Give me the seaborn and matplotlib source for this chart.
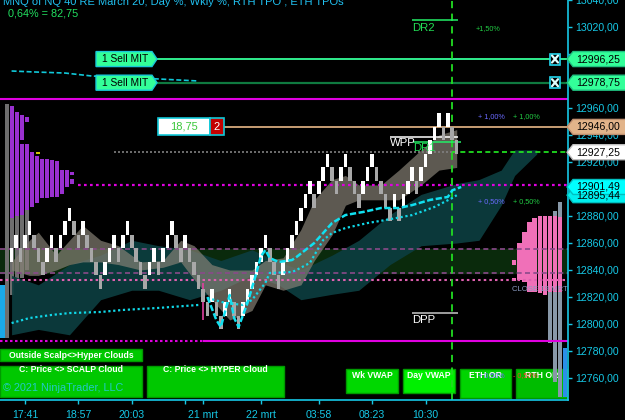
import numpy as np
import pandas as pd
import matplotlib
matplotlib.use("Agg")
import matplotlib.pyplot as plt
import matplotlib.transforms as mtransforms
from matplotlib.patches import Rectangle, Polygon
from matplotlib.lines import Line2D
import seaborn as sns

# ----------------------------- data -----------------------------
brick_size = 10
brick_lows = [12846, 12856, 12846, 12856, 12866, 12856, 12846, 12836, 12846, 12856,
              12846, 12856, 12866, 12876, 12866, 12856, 12866, 12856, 12846, 12836,
              12826, 12836, 12846, 12856, 12846, 12856, 12866, 12856, 12846, 12836,
              12826, 12836, 12846, 12836, 12846, 12856, 12866, 12856, 12846, 12856,
              12846, 12836, 12826, 12816, 12806, 12816, 12806, 12796, 12806, 12816,
              12806, 12796, 12806, 12816, 12826, 12836, 12846, 12856, 12846, 12836,
              12826, 12836, 12846, 12856, 12866, 12876, 12886, 12896, 12886, 12896,
              12906, 12916, 12906, 12896, 12906, 12916, 12906, 12896, 12886, 12896,
              12906, 12916, 12906, 12896, 12886, 12876, 12886, 12876, 12886, 12896,
              12906, 12896, 12906, 12916, 12926, 12936, 12946, 12936, 12946, 12936,
              12926]

time_tick_pos = [3, 15, 27, 39, 43, 56, 69, 81, 93]
time_tick_labels = ["17:41", "18:57", "20:03", "", "21 mrt", "22 mrt", "03:58", "08:23", "10:30"]
price_ticks = list(range(12760, 13041, 20))
hidden_price_labels = [12900, 13000]

# scalp (gray) cloud
scalp_x = [0, 4, 6, 10, 13, 16, 20, 24, 29, 34, 38, 41, 45, 49, 54, 57, 61, 65, 68, 72,
           75, 78, 83, 87, 92, 96, 100]
scalp_hi = [12846, 12862, 12868, 12851, 12862, 12873, 12862, 12858, 12846, 12847,
            12862, 12858, 12844, 12840, 12840, 12847, 12849, 12870, 12892, 12907,
            12910, 12903, 12903, 12914, 12929, 12940, 12944]
scalp_lo = [12840, 12836, 12836, 12840, 12844, 12846, 12846, 12844, 12840, 12842,
            12846, 12833, 12818, 12803, 12810, 12829, 12825, 12829, 12847, 12866,
            12888, 12892, 12892, 12892, 12903, 12914, 12916]

# hyper (teal) cloud
hyper_x = [0, 6, 13, 20, 27, 33, 40, 47, 54, 60, 65, 72, 78, 85, 92, 100, 105, 110, 113, 118]
hyper_hi = [12836, 12829, 12844, 12851, 12862, 12858, 12855, 12847, 12855, 12846,
            12840, 12851, 12862, 12881, 12896, 12904, 12907, 12914, 12929, 12929]
hyper_lo = [12792, 12796, 12792, 12818, 12825, 12825, 12818, 12825, 12836, 12829,
            12818, 12822, 12825, 12844, 12858, 12860, 12862, 12888, 12910, 12926]

# day vwap (dashed cyan)
dvwap_x = [44, 46, 47, 49, 50, 51, 53, 55, 56, 57, 58, 60, 63, 64, 68, 72, 75, 79, 83,
           87, 90, 94, 98, 99, 101]
dvwap_y = [12820.0, 12803.0, 12797.8, 12821.5, 12804.4, 12797.8, 12815.6, 12837.8,
           12850.0, 12854.8, 12848.9, 12845.9, 12847.4, 12849.6, 12860.0, 12874.8,
           12880.7, 12883.0, 12885.9, 12885.9, 12888.1, 12891.9, 12894.1, 12899.0, 12901.5]

# week vwap (dotted cyan), two sessions
wvwap1_x = [0, 4, 9, 13, 20, 25, 33, 42]
wvwap1_y = [12800.7, 12804.4, 12806.7, 12808.1, 12808.9, 12810.4, 12811.9, 12814.1]
wvwap2_x = [44, 48, 52, 54, 57, 58, 63, 64, 67, 70, 72, 75, 80, 84, 90, 95, 99, 100]
wvwap2_y = [12819.3, 12815.6, 12814.1, 12817.8, 12830.4, 12837.8, 12838.5, 12840.0,
            12845.2, 12862.2, 12867.4, 12871.1, 12874.8, 12877.0, 12880.7, 12886.7,
            12893.3, 12895.4]

# previous vwap (top dashed cyan)
pvwap_x = [0, 5, 12, 18, 33, 42]
pvwap_y = [12987.4, 12986.7, 12985.9, 12983.7, 12981.5, 12980.0]

# levels
lvl_top_magenta = 12966.3
lvl_bot_magenta = 12787.4
lvl_mag_dot = 12903.3
lvl_pink_dot = 12832.6
lvl_band_hi = 12855.3
lvl_band_lo = 12838.0
lvl_last = 12927.25
lvl_tan = 12946.00
lvl_sell1 = 12996.25
lvl_sell2 = 12978.75
lvl_dr2 = 13025.2
lvl_wpp = 12938.5
lvl_dr1 = 12934.8
lvl_dpp = 12808.1
lvl_p150 = 13019.0
lvl_p100 = 12954.0
lvl_p050 = 12890.4
lvl_m050 = 12761.5
lvl_close19 = 12825.2
vwap_day_last = 12901.49
vwap_wk_last = 12895.44

# left TPO profile (columns, purple parts)
tpo_l_col = [1, 2, 3, 3, 4, 4, 5, 6, 7, 8, 9, 10, 11, 12, 13, 13]
tpo_l_lo = [12878.5, 12880.0, 12936.3, 12880.7, 12949.6, 12884.4, 12886.7, 12889.6, 12893.3,
            12893.3, 12894.1, 12894.1, 12896.3, 12901.5, 12903.7, 12910.5]
tpo_l_hi = [12961.5, 12957.0, 12954.8, 12933.3, 12953.3, 12933.3, 12927.4, 12924.4, 12922.2,
            12922.2, 12921.5, 12920.7, 12914.1, 12914.1, 12907.4, 12912.6]
# left TPO gray parts
tpo_lg_col = [0, 1, 2, 3, 4]
tpo_lg_lo = [12789.6, 12821.5, 12830.0, 12834.0, 12840.0]
tpo_lg_hi = [12963.0, 12878.5, 12880.0, 12880.7, 12884.4]
# right TPO (pink parts)
tpo_r_col = [0, 0, 1, 2, 3, 4, 5, 6, 7, 8, 9]
tpo_r_lo = [12843.7, 12831.9, 12832.6, 12831.1, 12823.7, 12823.7, 12823.0, 12821.5, 12823.7,
            12823.7, 12823.7]
tpo_r_hi = [12847.4, 12834.1, 12860.0, 12868.1, 12875.6, 12878.5, 12880.0, 12880.0, 12880.0,
            12880.0, 12879.3]
# right TPO gray parts
tpo_rg_col = [7, 8, 8, 9, 9]
tpo_rg_lo = [12785.9, 12880.0, 12757.0, 12879.3, 12745.9]
tpo_rg_hi = [12823.7, 12883.7, 12823.7, 12890.4, 12823.7]

# ----------------------------- style -----------------------------
sns.set_theme(style="dark")
plt.rcParams["font.family"] = ["Liberation Sans", "DejaVu Sans"]
plt.rcParams["axes.unicode_minus"] = False

W, H = 625, 420
CYAN = "#16c8e6"
fig = plt.figure(figsize=(W / 100, H / 100), dpi=100, facecolor="black")
rect = [0, 20 / H, 568 / W, 400 / H]
ax_bg = fig.add_axes(rect, zorder=0)
ax = fig.add_axes(rect, zorder=1)
ax_bg.set_facecolor("black")
ax.set_facecolor("none")
ylim = (12743.7, 13040.0)
ax.set_xlim(-2.6, 125.0)
ax.set_ylim(*ylim)
ax_bg.set_xlim(0, 568)
ax_bg.set_ylim(*ylim)
ax_bg.axis("off")
for a in (ax, ax_bg):
    a.grid(False)

px = mtransforms.Affine2D().scale(1 / W, -1 / H).translate(0, 1) + fig.transFigure

def p2y(price):
    return H - ax.transData.transform((0, price))[1]

# ---------------- background layer: band, profiles, buttons ----------------
ax_bg.axhspan(lvl_band_lo, lvl_band_hi, color="#0a2a0c", zorder=0)
col_w = 4.4
ax_bg.bar([5 + 5 * c for c in tpo_lg_col], np.subtract(tpo_lg_hi, tpo_lg_lo), bottom=tpo_lg_lo,
          width=col_w, align="edge", color="#6e6e6e", lw=0, zorder=3)
ax_bg.bar([5 + 5 * c for c in tpo_l_col], np.subtract(tpo_l_hi, tpo_l_lo), bottom=tpo_l_lo,
          width=col_w, align="edge", color="#9a30d0", lw=0, zorder=3)
ax_bg.bar([0], [12828.9 - 12789.6], bottom=[12789.6], width=5, align="edge", color="#1aa8e8",
          lw=0, zorder=3)
ax_bg.hlines(12926.7, 36, 40, color="#ffee00", lw=1.2, zorder=4)
ax_bg.bar([512 + 5.1 * c for c in tpo_r_col], np.subtract(tpo_r_hi, tpo_r_lo), bottom=tpo_r_lo,
          width=col_w, align="edge", color="#f070b8", lw=0, zorder=3)
ax_bg.bar([512 + 5.1 * c for c in tpo_rg_col], np.subtract(tpo_rg_hi, tpo_rg_lo), bottom=tpo_rg_lo,
          width=col_w, align="edge", color="#8898a8", lw=0, zorder=3)
ax_bg.bar([563], [12782.2 - 12745.9], bottom=[12745.9], width=col_w, align="edge",
          color="#2b8fe8", lw=0, zorder=3)

buttons = [
    (0, 349, 142, 361, "Outside Scalp<>Hyper Clouds", "#00c800", 355),
    (0, 366, 142, 397, "C: Price <> SCALP Cloud", "#00c800", 370),
    (147, 366, 284, 397, "C: Price <> HYPER Cloud", "#00c800", 370),
    (346, 369, 398, 393, "Wk VWAP", "#00d800", 376),
    (403, 369, 455, 393, "Day VWAP", "#00f000", 376),
    (460, 369, 511, 398, "ETH OR", "#00d400", 376),
    (516, 369, 567, 398, "RTH OR", "#00bc00", 376),
]
for x0, y0, x1, y1, lab, fc, ty in buttons:
    ax_bg.add_patch(Rectangle((x0, y0), x1 - x0, y1 - y0, transform=px, fc=fc, ec="#009a00",
                              lw=1, zorder=1, clip_on=False))
    ax_bg.text((x0 + x1) / 2, ty, lab, transform=px, ha="center", va="center", color="white",
               fontsize=6.2, fontweight="bold", zorder=2, clip_on=False)

# ---------------- main layer ----------------
ax.fill_between(hyper_x, hyper_lo, hyper_hi, color="#0c3c3e", alpha=0.95, lw=0, zorder=1)
ax.fill_between(scalp_x, scalp_lo, scalp_hi, color="#858075", alpha=0.7, lw=0, zorder=1.2)

ax.axhline(lvl_top_magenta, color="#e000e0", lw=1.5, zorder=2)
ax.hlines(lvl_bot_magenta, -2.6, 43, color="#e000e0", lw=1.5, linestyles=(0, (1.2, 1.2)), zorder=2)
ax.hlines(lvl_bot_magenta, 43, 125, color="#e000e0", lw=1.5, zorder=2)
ax.hlines(lvl_mag_dot, 15, 125, color="#e000e0", lw=1.6, linestyles=(0, (1.2, 1.5)), zorder=2)
ax.axhline(lvl_pink_dot, color="#e060b0", lw=1.5, linestyle=(0, (1.2, 1.5)), zorder=2)
ax.axhline(lvl_band_hi, color="#8a4a8a", lw=1.2, linestyle=(0, (3, 2)), zorder=2)
ax.axhline(lvl_band_lo, color="#8a4a8a", lw=1.2, linestyle=(0, (3, 2)), zorder=2)
ax.hlines(lvl_last, 23, 99, color="#808080", lw=1.2, linestyles=(0, (1.2, 1.2)), zorder=2)
ax.hlines(lvl_last, 99, 125, color="#22ee22", lw=1.2, linestyles=(0, (3, 2)), zorder=2)
ax.hlines(lvl_tan, 47.8, 125, color="#e8b888", lw=1.2, zorder=2)
ax.hlines(lvl_sell1, 32.6, 125, color="#33ff99", lw=1.3, zorder=2)
ax.hlines(lvl_sell2, 32.6, 125, color="#0f7a40", lw=1.6, zorder=2)
ax.axvline(99, color="#22dd22", lw=1.3, linestyle=(0, (4, 3)), zorder=2)
ax.vlines(43, 12803.0, 12830.4, color="#e040a0", lw=1.2, zorder=2)

# pivot levels
ax.hlines(lvl_dr2, 90, 100.2, color="#22ee66", lw=1.1, zorder=3)
ax.text(90, lvl_dr2 - 2.0, "DR2", color="#22dd55", fontsize=8.2, va="top", ha="left", zorder=6)
ax.hlines(lvl_wpp, 85, 100.2, color="white", lw=1.1, zorder=3)
ax.text(85, lvl_wpp - 1.0, "WPP", color="white", fontsize=8.2, va="top", ha="left", zorder=6)
ax.hlines(lvl_dr1, 90.2, 101, color="#22ee66", lw=1.1, zorder=3)
ax.text(90.2, lvl_dr1 - 1.0, "DR1", color="#22dd55", fontsize=8.2, va="top", ha="left", zorder=6)
ax.hlines(lvl_dpp, 90, 100.2, color="#c8c8c8", lw=1.1, zorder=3)
ax.text(90, lvl_dpp - 1.5, "DPP", color="white", fontsize=8.2, va="top", ha="left", zorder=6)

ax.text(104.2, lvl_p150, "+1,50%", color="#22cc44", fontsize=5.2, va="center", zorder=6)
ax.text(104.8, lvl_p100, "+ 1,00%", color="#6a6aff", fontsize=5.2, va="center", zorder=6)
ax.text(112.7, lvl_p100, "+ 1,00%", color="#22cc44", fontsize=5.2, va="center", zorder=6)
ax.text(104.8, lvl_p050, "+ 0,50%", color="#6a6aff", fontsize=5.2, va="center", zorder=6)
ax.text(112.7, lvl_p050, "+ 0,50%", color="#22cc44", fontsize=5.2, va="center", zorder=6)
ax.text(104.8, lvl_m050, "+ 0,50%", color="#6a6aff", fontsize=5.2, va="center", zorder=6)
ax.text(112.7, lvl_m050, "- 0,50%", color="#ee4422", fontsize=5.2, va="center", zorder=6)
ax.text(112.4, lvl_close19, "CLOSE 19 MRT", color="#8a9ac0", fontsize=5.6, va="center", zorder=6)

# bricks
colors = ["white" if k == 0 or brick_lows[k] > brick_lows[k - 1] else "#a8a8a8"
          for k in range(len(brick_lows))]
ax.bar(range(len(brick_lows)), brick_size, bottom=brick_lows, width=0.8, color=colors,
       lw=0, zorder=3)

# vwap lines via seaborn
sns.lineplot(x=pvwap_x, y=pvwap_y, ax=ax, color="#10c8d8", lw=1.2, linestyle=(0, (3, 1.5)),
             zorder=4, legend=False)
sns.lineplot(x=wvwap1_x, y=wvwap1_y, ax=ax, color="#10d8e8", lw=1.6, linestyle=(0, (1, 1.2)),
             zorder=4, legend=False)
sns.lineplot(x=wvwap2_x, y=wvwap2_y, ax=ax, color="#10d8e8", lw=1.6, linestyle=(0, (1, 1.2)),
             zorder=4, legend=False)
sns.lineplot(x=dvwap_x, y=dvwap_y, ax=ax, color="#10e0f0", lw=1.8, linestyle=(0, (2.5, 1)),
             zorder=4, legend=False)

ax.set_xlim(-2.6, 125.0)
ax.set_ylim(*ylim)
ax.set_xlabel("")
ax.set_ylabel("")

# axes styling
ax.yaxis.tick_right()
ax.set_yticks(price_ticks)
ax.set_yticklabels(["" if v in hidden_price_labels else f"{v:.2f}".replace(".", ",")
                    for v in price_ticks])
ax.set_xticks(time_tick_pos)
ax.set_xticklabels(time_tick_labels)
ax.tick_params(axis="y", colors=CYAN, labelcolor=CYAN, labelsize=7.6, length=3, width=1, pad=2,
               direction="out", right=True, left=False)
ax.tick_params(axis="x", colors=CYAN, labelcolor=CYAN, labelsize=7.6, length=3, width=1, pad=4,
               direction="out", bottom=True)
for s in ("top", "left"):
    ax.spines[s].set_visible(False)
for s in ("right", "bottom"):
    ax.spines[s].set_visible(True)
    ax.spines[s].set_color(CYAN)
    ax.spines[s].set_linewidth(1.2)

# ---------------- UI overlays (figure pixels) ----------------
def tag_right(y_c, fc, ec, label, tc="black"):
    h = 7.5
    poly = Polygon([(567, y_c), (573, y_c - h), (626, y_c - h), (626, y_c + h), (573, y_c + h)],
                   closed=True, transform=px, fc=fc, ec=ec, lw=1, zorder=10)
    fig.patches.append(poly)
    fig.text(576 / W, 1 - y_c / H, label, color=tc, fontsize=7.6, va="center", ha="left", zorder=11)

tag_right(p2y(vwap_wk_last), "#00f0f0", "#00c0c0", f"{vwap_wk_last:.2f}".replace(".", ","))
tag_right(p2y(vwap_day_last), "#00ffff", "#00c0c0", f"{vwap_day_last:.2f}".replace(".", ","))
tag_right(p2y(lvl_last), "white", "#c0c0c0", f"{lvl_last:.2f}".replace(".", ","))
tag_right(p2y(lvl_tan), "#e2b48a", "#c09070", f"{lvl_tan:.2f}".replace(".", ","))
tag_right(p2y(lvl_sell1), "#33ff99", "#20c080", f"{lvl_sell1:.2f}".replace(".", ","))
tag_right(p2y(lvl_sell2), "#33ff99", "#20c080", f"{lvl_sell2:.2f}".replace(".", ","))

# close buttons
for lvl in (lvl_sell1, lvl_sell2):
    yc = p2y(lvl)
    fig.patches.append(Rectangle((550, yc - 5.5), 10, 11, transform=px, fc="black", ec="#22d8f0",
                                 lw=1.2, zorder=10))
    for a, b in (((552, yc - 3.5), (558, yc + 3.5)), ((552, yc + 3.5), (558, yc - 3.5))):
        fig.lines.append(Line2D([a[0], b[0]], [a[1], b[1]], transform=px, color="#e0ffff",
                                lw=1.6, zorder=11))

# sell MIT tags
for lvl in (lvl_sell1, lvl_sell2):
    yc = p2y(lvl)
    poly = Polygon([(96, yc - 7.5), (152, yc - 7.5), (157, yc), (152, yc + 7.5), (96, yc + 7.5)],
                   closed=True, transform=px, fc="#33ff99", ec="#18c8d8", lw=1, zorder=10)
    fig.patches.append(poly)
    fig.text(102 / W, 1 - yc / H, "1 Sell MIT", color="black", fontsize=7.4, va="center",
             ha="left", zorder=11)

# position box
yc = p2y(lvl_tan)
fig.patches.append(Rectangle((158, yc - 8.5), 52, 17, transform=px, fc="white", ec="#10c8d8",
                             lw=1.2, zorder=10))
fig.patches.append(Rectangle((210, yc - 8.5), 14, 17, transform=px, fc="#c40000", ec="#10c8d8",
                             lw=1.2, zorder=10))
fig.text(184 / W, 1 - yc / H, "18,75", color="#3cc83c", fontsize=8, va="center", ha="center",
         zorder=11)
fig.text(217 / W, 1 - yc / H, "2", color="white", fontsize=8, va="center", ha="center", zorder=11)

# header texts
fig.text(3 / W, 1 - 2 / H, "MNQ of NQ 40 RE March 20, Day %, Wkly %, RTH TPO , ETH TPOs",
         color="#20c0f0", fontsize=8, va="center", ha="left", zorder=12)
fig.text(8 / W, 1 - 14 / H, "0,64% = 82,75", color="#22e060", fontsize=7.8, va="center",
         ha="left", zorder=12)
fig.text(3 / W, 1 - 388 / H, "\u00a9 2021 NinjaTrader, LLC", color="#22c8c8", fontsize=7.8,
         va="center", ha="left", zorder=12)

fig.savefig("out.png", dpi=100, facecolor="black")
